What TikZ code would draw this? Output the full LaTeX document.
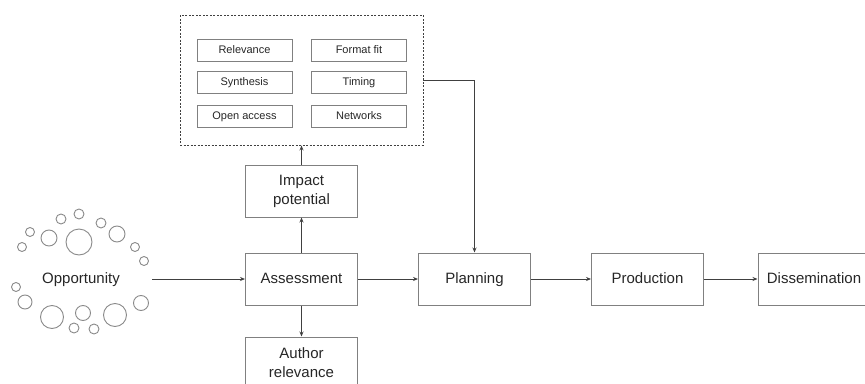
\documentclass[tikz,border=0pt]{standalone}
\usepackage{fontspec}
\setmainfont{Liberation Sans}
\usetikzlibrary{arrows.meta}
\definecolor{boxline}{HTML}{808080}
\definecolor{arrowline}{HTML}{404040}
\definecolor{txt}{HTML}{262626}
\definecolor{circ}{HTML}{8A8A8A}
\tikzset{
  mainbox/.style={draw=boxline, line width=1pt, minimum width=112pt, minimum height=52pt, inner sep=0pt, font=\fontsize{15}{19}\selectfont, text=txt, align=center},
  oneline/.style={text height=11pt, text depth=3pt},
  smallbox/.style={draw=boxline, line width=0.9pt, minimum width=95pt, minimum height=22pt, inner sep=0pt, font=\fontsize{11}{13}\selectfont, text=txt, text height=8pt, text depth=2.5pt},
  groupbox/.style={draw=arrowline, line width=0.9pt, dash pattern=on 2pt off 1.5pt, minimum width=243pt, minimum height=130pt, inner sep=0pt},
  conn/.style={draw=arrowline, line width=0.8pt, -{Stealth[length=5pt,width=4pt]}},
  bubble/.style={draw=circ, line width=0.9pt}
}
\begin{document}
\begin{tikzpicture}[x=1pt, y=-1pt]
\useasboundingbox (0,0) rectangle (865,383);
% group of criteria
\node[groupbox] (grp) at (301.5,80) {};
\node[smallbox] (rel) at (244.5,50.5) {Relevance};
\node[smallbox] (fmt) at (359,50.5) {Format fit};
\node[smallbox] (syn) at (244.5,82.5) {Synthesis};
\node[smallbox] (tim) at (359,82.5) {Timing};
\node[smallbox] (oa) at (244.5,116.5) {Open access};
\node[smallbox] (net) at (359,116.5) {Networks};
% main boxes
\node[mainbox] (imp) at (301.5,191) {Impact\\potential};
\node[mainbox, oneline] (ass) at (301.5,279) {Assessment};
\node[mainbox] (aut) at (301.5,363) {Author\\relevance};
\node[mainbox, oneline] (pla) at (474.5,279) {Planning};
\node[mainbox, oneline] (pro) at (647.5,279) {Production};
\node[mainbox, oneline] (dis) at (814,279) {Dissemination};
% opportunity
\node[font=\fontsize{15}{18}\selectfont, text=txt, inner sep=0pt, text height=11pt, text depth=3pt] (opp) at (81,279) {Opportunity};
\coordinate (oppend) at (152,279);
% bubbles
\foreach \x/\y/\r in {22/247/4.5, 30/232/4.5, 49/238/8, 61/219/5, 79/214/5, 79/242/13, 101/223/5, 117/234/8, 135/247/4.5, 144/261/4.5,
  16/287/4.5, 25/302/7, 52/317/11.5, 83/313/7.5, 74/328/5, 94/329/5, 115/315/11.5, 141/303/7.5}
  \draw[bubble] (\x,\y) circle[radius=\r];
% connectors
\draw[conn] (oppend) -- (ass.west);
\draw[conn] (ass) -- (pla);
\draw[conn] (pla) -- (pro);
\draw[conn] (pro) -- (dis);
\draw[conn] (ass) -- (imp);
\draw[conn] (ass) -- (aut);
\draw[conn] (imp) -- (grp);
\draw[conn] (grp.east) -| (pla.north);
\end{tikzpicture}
\end{document}
